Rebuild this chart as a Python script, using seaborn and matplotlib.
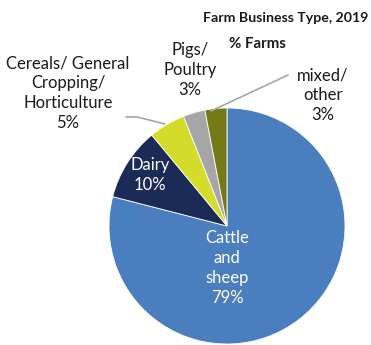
import matplotlib
matplotlib.use('Agg')
import matplotlib.pyplot as plt
import seaborn as sns

# data
types = ['Cattle and sheep', 'Dairy', 'Cereals/ General Cropping/ Horticulture', 'Pigs/ Poultry', 'mixed/ other']
share = [79, 10, 5, 3, 3]
colors = ['#4a7ebf', '#1c2a57', '#d3dc2b', '#a6a6a6', '#767a16']

sns.set_style('white')
plt.rcParams['font.family'] = ['Lato', 'DejaVu Sans']

W, H = 371, 345
fig = plt.figure(figsize=(W / 100, H / 100), dpi=100)
ax = fig.add_axes([0, 0, 1, 1])

# pie centred at pixel (227, 226), radius 118
cx, cy, r = 227, H - 226, 118
ax.pie(share, colors=colors, startangle=90, counterclock=False,
       center=(cx, cy), radius=r, frame=True,
       wedgeprops=dict(edgecolor='white', linewidth=0.6))
ax.set_xlim(0, W)
ax.set_ylim(0, H)
ax.set_aspect('equal')
ax.axis('off')

fs = 12
ls = 1.3

def py(y):
    return H - y

# inside labels
ax.text(227, py(268), 'Cattle\nand\nsheep\n' + f'{share[0]}%', color='white', fontsize=fs,
        ha='center', va='center', linespacing=ls)
ax.text(150, py(175), 'Dairy\n' + f'{share[1]}%', color='white', fontsize=fs,
        ha='center', va='center', linespacing=ls)

# outside labels
ax.text(68, py(93), 'Cereals/ General\nCropping/\nHorticulture\n' + f'{share[2]}%', color='#1a1a1a',
        fontsize=fs, ha='center', va='center', linespacing=ls)
ax.text(190, py(70), 'Pigs/\nPoultry\n' + f'{share[3]}%', color='#1a1a1a', fontsize=fs,
        ha='center', va='center', linespacing=ls)
ax.text(323, py(95), 'mixed/\nother\n' + f'{share[4]}%', color='#1a1a1a', fontsize=fs,
        ha='center', va='center', linespacing=ls)

# leader lines
ax.plot([126, 137, 165], [py(117), py(117), py(124)], color='#a6a6a6', lw=1.2)
ax.plot([211, 288], [py(111), py(75)], color='#a6a6a6', lw=1.2)

# title
ax.text(368, py(18), 'Farm Business Type, 2019', fontsize=10.2, fontweight='bold',
        ha='right', va='center', color='#1a1a1a')
ax.text(257, py(44), '% Farms', fontsize=10.8, fontweight='bold',
        ha='center', va='center', color='#1a1a1a')

fig.savefig('out.png', dpi=100)
